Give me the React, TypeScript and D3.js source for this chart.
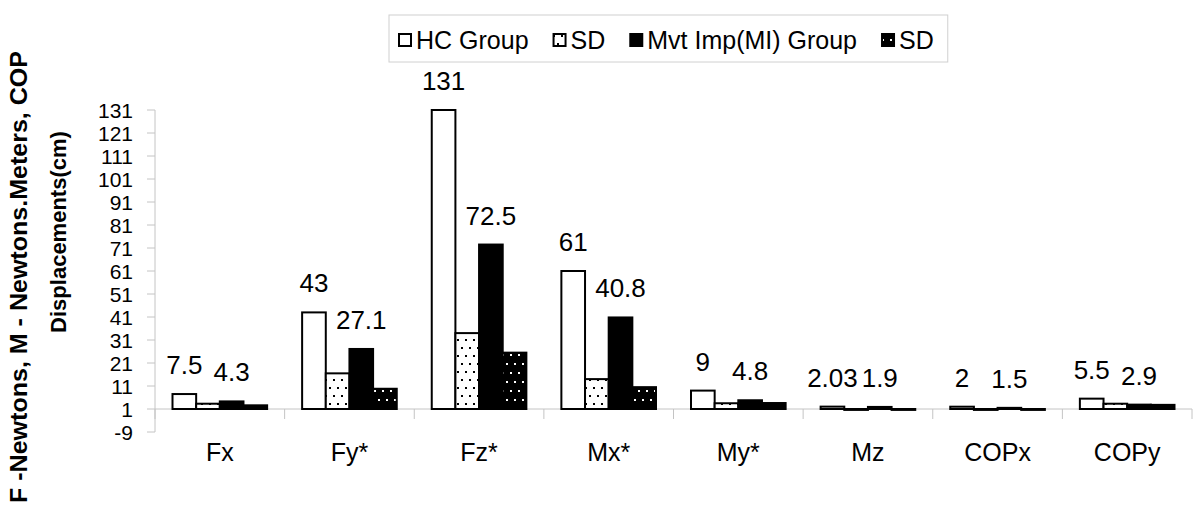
import React, { useRef, useEffect } from 'react'
import { select, scaleBand, scaleLinear, range } from 'd3'

// categories and series
const categories = ['Fx', 'Fy*', 'Fz*', 'Mx*', 'My*', 'Mz', 'COPx', 'COPy']
const hcGroup = [7.5, 43, 131, 61, 9, 2.03, 2, 5.5]
const hcSD = [3.3, 16.5, 34, 14, 3.5, 0.6, 0.6, 3.3]
const miGroup = [4.3, 27.1, 72.5, 40.8, 4.8, 1.9, 1.5, 2.9]
const miSD = [2.6, 9.8, 25.5, 10.5, 3.6, 0.6, 0.6, 2.8]
const hcLabels = ['7.5', '43', '131', '61', '9', '2.03', '2', '5.5']
const miLabels = ['4.3', '27.1', '72.5', '40.8', '4.8', '1.9', '1.5', '2.9']
const seriesNames = ['HC Group', 'SD', 'Mvt Imp(MI) Group', 'SD']
const yTicks = range(-9, 132, 10)

const FONT = 'Arial, "Liberation Sans", sans-serif'

const Chart = () => {
    const svgRef = useRef<SVGSVGElement>(null)

    useEffect(() => {
        const svg = select(svgRef.current)
        svg.selectAll('*').remove()

        const series = [hcGroup, hcSD, miGroup, miSD]
        const fills = ['#fff', 'url(#dotsWhite)', '#000', 'url(#dotsBlack)']

        // patterns (dotted SD fills)
        const defs = svg.append('defs')
        const p1 = defs.append('pattern').attr('id', 'dotsWhite')
            .attr('width', 8).attr('height', 16).attr('patternUnits', 'userSpaceOnUse')
        p1.append('rect').attr('width', 8).attr('height', 16).attr('fill', '#fff')
        p1.append('rect').attr('x', 1).attr('y', 3).attr('width', 2).attr('height', 2).attr('fill', '#000')
        p1.append('rect').attr('x', 5).attr('y', 11).attr('width', 2).attr('height', 2).attr('fill', '#000')
        const p2 = defs.append('pattern').attr('id', 'dotsBlack')
            .attr('width', 8).attr('height', 18).attr('patternUnits', 'userSpaceOnUse')
        p2.append('rect').attr('width', 8).attr('height', 18).attr('fill', '#000')
        p2.append('rect').attr('x', 2).attr('y', 3).attr('width', 2).attr('height', 2).attr('fill', '#fff')
        p2.append('rect').attr('x', 6).attr('y', 12).attr('width', 2).attr('height', 2).attr('fill', '#fff')

        // scales
        const xScale = scaleBand().domain(categories).range([155, 1192])
        const bw = xScale.bandwidth()
        const x1 = scaleBand().domain(['0', '1', '2', '3']).range([17.5, bw - 17.5])
        const yScale = scaleLinear().domain([-9, 131]).range([432, 110])
        const base = yScale(1)

        // y axis
        const axisColor = '#c4c4c4'
        svg.append('line')
            .attr('x1', 155).attr('x2', 155)
            .attr('y1', yScale(131)).attr('y2', yScale(-9))
            .attr('stroke', axisColor)
        yTicks.forEach(t => {
            svg.append('line')
                .attr('x1', 147).attr('x2', 155)
                .attr('y1', yScale(t)).attr('y2', yScale(t))
                .attr('stroke', axisColor)
            svg.append('text')
                .attr('x', 133).attr('y', yScale(t))
                .attr('dy', '0.36em')
                .attr('text-anchor', 'end')
                .attr('font-size', 21)
                .attr('font-family', FONT)
                .text(t)
        })

        // x axis crosses at 1
        svg.append('line')
            .attr('x1', 155).attr('x2', 1192)
            .attr('y1', base).attr('y2', base)
            .attr('stroke', axisColor)
        range(categories.length + 1).forEach(i => {
            const xx = 155 + i * bw
            svg.append('line')
                .attr('x1', xx).attr('x2', xx)
                .attr('y1', base).attr('y2', base + 10)
                .attr('stroke', axisColor)
        })
        svg.selectAll('.cat').data(categories).enter().append('text')
            .attr('x', d => xScale(d) + bw / 2)
            .attr('y', 461)
            .attr('text-anchor', 'middle')
            .attr('font-size', 25)
            .attr('font-family', FONT)
            .text(d => d)

        // bars
        series.forEach((vals, s) => {
            svg.append('g').selectAll('rect').data(vals).enter().append('rect')
                .attr('x', (d, i) => xScale(categories[i]) + x1(String(s)))
                .attr('y', d => Math.min(yScale(d), base))
                .attr('width', x1.bandwidth())
                .attr('height', d => Math.abs(yScale(d) - base))
                .attr('fill', fills[s])
                .attr('stroke', '#000')
                .attr('stroke-width', 2)
        })

        // value labels
        const labelSets: [number[], string[], number][] = [[hcGroup, hcLabels, 0], [miGroup, miLabels, 2]]
        labelSets.forEach(([vals, labels, s]) => {
            svg.append('g').selectAll('text').data(vals).enter().append('text')
                .attr('x', (d, i) => xScale(categories[i]) + x1(String(s)) + x1.bandwidth() / 2)
                .attr('y', d => yScale(d) - 20)
                .attr('text-anchor', 'middle')
                .attr('font-size', 26)
                .attr('font-family', FONT)
                .text((d, i) => labels[i])
        })

        // y title
        svg.append('text')
            .attr('transform', 'translate(27, 277) rotate(-90)')
            .attr('text-anchor', 'middle')
            .attr('font-size', 24)
            .attr('font-weight', 'bold')
            .attr('font-family', FONT)
            .attr('textLength', 452)
            .attr('lengthAdjust', 'spacingAndGlyphs')
            .text('F -Newtons, M - Newtons.Meters, COP')
        svg.append('text')
            .attr('transform', 'translate(66, 232) rotate(-90)')
            .attr('text-anchor', 'middle')
            .attr('font-size', 22)
            .attr('font-weight', 'bold')
            .attr('font-family', FONT)
            .text('Displacements(cm)')

        // legend
        const legend = svg.append('g')
        const box = legend.append('rect')
            .attr('x', 389).attr('y', 15).attr('height', 47)
            .attr('fill', '#fff').attr('stroke', '#d0d0d0')
        let lx = 399
        seriesNames.forEach((name, s) => {
            legend.append('rect')
                .attr('x', lx).attr('y', 34).attr('width', 12).attr('height', 12)
                .attr('fill', fills[s]).attr('stroke', '#000').attr('stroke-width', 2)
            const t = legend.append('text')
                .attr('x', lx + 17).attr('y', 49)
                .attr('font-size', 25)
                .attr('font-family', FONT)
                .text(name)
            const w = (t.node() as SVGTextElement).getComputedTextLength()
            lx += 17 + w + (s < seriesNames.length - 1 ? 25 : 14)
        })
        box.attr('width', lx - 389)
    }, [])

    return (
        <svg ref={svgRef} width={1200} height={524}
            style={{ position: 'absolute', left: 0, top: 0, background: '#fff' }}></svg>
    )
}

export default function App() {
    return <Chart />
}
